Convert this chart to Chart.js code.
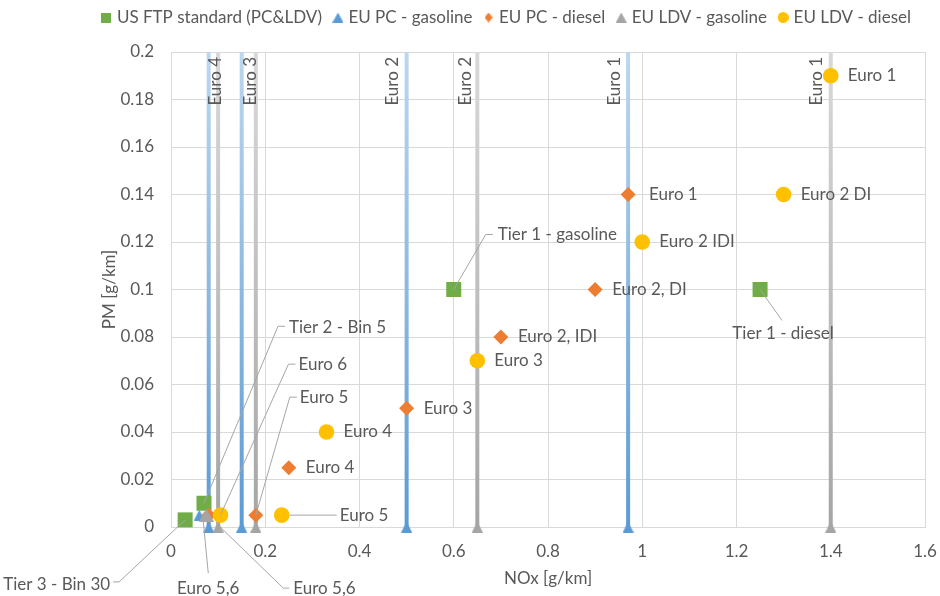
<!DOCTYPE html>
<html>
<head>
<meta charset="utf-8">
<script src="https://cdn.jsdelivr.net/npm/chart.js@4.4.1/dist/chart.umd.min.js"></script>
<style>
  html, body { margin: 0; padding: 0; background: #fff; }
</style>
</head>
<body>
<canvas id="emissionChart" width="940" height="596"></canvas>
<script>
// NOx / PM emission limits [g/km]
var usNames = ['Tier 1 - gasoline', 'Tier 1 - diesel', 'Tier 2 - Bin 5', 'Tier 3 - Bin 30'];
var usNOx = [0.6, 1.25, 0.07, 0.03];
var usPM = [0.1, 0.1, 0.01, 0.003];

var pcGasNames = ['Euro 1', 'Euro 2', 'Euro 3', 'Euro 4', 'Euro 5,6'];
var pcGasNOx = [0.97, 0.5, 0.15, 0.08, 0.06];
var pcGasPM = [0, 0, 0, 0, 0.005];   // 0 = no PM limit

var pcDieselNames = ['Euro 1', 'Euro 2, IDI', 'Euro 2, DI', 'Euro 3', 'Euro 4', 'Euro 5', 'Euro 6'];
var pcDieselNOx = [0.97, 0.7, 0.9, 0.5, 0.25, 0.18, 0.08];
var pcDieselPM = [0.14, 0.08, 0.1, 0.05, 0.025, 0.005, 0.005];

var ldvGasNames = ['Euro 1', 'Euro 2', 'Euro 3', 'Euro 4', 'Euro 5,6'];
var ldvGasNOx = [1.4, 0.65, 0.18, 0.1, 0.075];
var ldvGasPM = [0, 0, 0, 0, 0.005];

var ldvDieselNames = ['Euro 1', 'Euro 2 IDI', 'Euro 2 DI', 'Euro 3', 'Euro 4', 'Euro 5', 'Euro 6'];
var ldvDieselNOx = [1.4, 1.0, 1.3, 0.65, 0.33, 0.235, 0.105];
var ldvDieselPM = [0.19, 0.12, 0.14, 0.07, 0.04, 0.005, 0.005];

var xTicks = [0, 0.2, 0.4, 0.6, 0.8, 1, 1.2, 1.4, 1.6];
var yTicks = [0, 0.02, 0.04, 0.06, 0.08, 0.1, 0.12, 0.14, 0.16, 0.18, 0.2];

var usFtp = { names: usNames, nox: usNOx, pm: usPM };
var pcGas = { names: pcGasNames, nox: pcGasNOx, pm: pcGasPM };
var pcDiesel = { names: pcDieselNames, nox: pcDieselNOx, pm: pcDieselPM };
var ldvGas = { names: ldvGasNames, nox: ldvGasNOx, pm: ldvGasPM };
var ldvDiesel = { names: ldvDieselNames, nox: ldvDieselNOx, pm: ldvDieselPM };

var FONT = 'Lato';
var FSIZE = 17;
var TEXT = '#595959';
var GRID = '#d9d9d9';
var GREEN = '#70ad47', BLUE = '#5b9bd5', ORANGE = '#ed7d31', GREY = '#a5a5a5', YELLOW = '#ffc000';
var yTop = yTicks[yTicks.length - 1];

function points(s) {
  return s.nox.map(function (x, i) { return { x: x, y: s.pm[i] }; });
}

// gasoline stages without PM limit get a bar over the whole PM range
function limitBars(s) {
  var out = [];
  s.nox.forEach(function (x, i) {
    if (s.pm[i] === 0) out.push({ x: x, y: 0 }, { x: x, y: yTop }, { x: x, y: null });
  });
  return out;
}

function fade(top, bottom) {
  return function (c) {
    var area = c.chart.chartArea;
    if (!area) return bottom;
    var g = c.chart.ctx.createLinearGradient(0, area.bottom, 0, area.top);
    g.addColorStop(0, bottom);
    g.addColorStop(1, top);
    return g;
  };
}

// small marker bitmaps, centred on the point like Excel does
function marker(shape, w, h, color) {
  var c = document.createElement('canvas');
  c.width = w; c.height = h;
  var g = c.getContext('2d');
  g.fillStyle = color;
  g.beginPath();
  if (shape === 'triangle') { g.moveTo(w / 2, 0); g.lineTo(w, h); g.lineTo(0, h); }
  else if (shape === 'diamond') { g.moveTo(w / 2, 0); g.lineTo(w, h / 2); g.lineTo(w / 2, h); g.lineTo(0, h / 2); }
  else if (shape === 'circle') { g.arc(w / 2, h / 2, w / 2, 0, Math.PI * 2); }
  else { g.rect(0, 0, w, h); }
  g.closePath();
  g.fill();
  return c;
}

var triBlue = marker('triangle', 11, 11, BLUE);
var triGrey = marker('triangle', 11, 11, GREY);
var triGreyBig = marker('triangle', 15, 13, GREY);
var legendMarks = [
  marker('rect', 10, 10, GREEN), marker('triangle', 11, 10, BLUE), marker('diamond', 8, 10, ORANGE),
  marker('triangle', 11, 10, GREY), marker('circle', 11, 11, YELLOW)
];

// rotated stage names on the bars: series, index, x shift in px
var barLabels = [
  [ldvGas, 3, 3], [ldvGas, 2, 0], [pcGas, 1, -9], [ldvGas, 1, -6], [pcGas, 0, -8], [ldvGas, 0, -9]
];

// point labels; dx/dy = text anchor from the point, leader = polyline from the point
function right(s, i, dx) { return { s: s, i: i, dx: dx || 17, dy: 0, align: 'left' }; }
var pointLabels = [
  right(ldvDiesel, 0), right(ldvDiesel, 1), right(ldvDiesel, 2), right(ldvDiesel, 3), right(ldvDiesel, 4),
  right(pcDiesel, 0, 21), right(pcDiesel, 1), right(pcDiesel, 2), right(pcDiesel, 3), right(pcDiesel, 4),
  { s: ldvDiesel, i: 5, dx: 58, dy: 0, align: 'left', leader: [[8, 0], [55, 0]] },
  { s: ldvDiesel, i: 6, dx: 78, dy: -151, align: 'left', leader: [[0, 0], [68, -151], [75, -151]] },
  { s: pcDiesel, i: 5, dx: 44, dy: -118, align: 'left', leader: [[0, 0], [34, -118], [41, -118]] },
  { s: usFtp, i: 0, dx: 44, dy: -55, align: 'left', leader: [[0, 0], [32, -55], [39, -55]] },
  { s: usFtp, i: 1, dx: 23, dy: 44, align: 'center', leader: [[0, 0], [22, 31]] },
  { s: usFtp, i: 2, dx: 85, dy: -176, align: 'left', leader: [[0, 0], [74, -177], [81, -177]] },
  { s: usFtp, i: 3, dx: -75, dy: 65, align: 'right', leader: [[0, 0], [-66, 62], [-72, 62]] },
  { s: pcGas, i: 4, dx: 9, dy: 73, align: 'center', leader: [[4, 6], [9, 58]] },
  { s: ldvGas, i: 4, dx: 87, dy: 73, align: 'left', leader: [[14, 12], [77, 73], [83, 73]] }
];

var annotate = {
  id: 'annotate',
  afterLayout: function (chart) {
    // pull the legend row up, keep the plot top where it is
    chart.legend.top -= 16;
    chart.legend.bottom -= 16;
  },
  afterDatasetsDraw: function (chart) {
    var ctx = chart.ctx, xs = chart.scales.x, ys = chart.scales.y, area = chart.chartArea;
    ctx.save();
    ctx.font = FSIZE + 'px ' + FONT;
    ctx.fillStyle = TEXT;
    ctx.strokeStyle = '#a6a6a6';
    ctx.lineWidth = 1;

    barLabels.forEach(function (b) {
      var px = xs.getPixelForValue(b[0].nox[b[1]]) + b[2];
      ctx.save();
      ctx.translate(px, area.top + 5);
      ctx.rotate(-Math.PI / 2);
      ctx.textAlign = 'right';
      ctx.textBaseline = 'alphabetic';
      ctx.fillText(b[0].names[b[1]], 0, 0);
      ctx.restore();
    });

    pointLabels.forEach(function (l) {
      var px = xs.getPixelForValue(l.s.nox[l.i]);
      var py = ys.getPixelForValue(l.s.pm[l.i]);
      if (l.leader) {
        ctx.beginPath();
        l.leader.forEach(function (p, k) {
          if (k === 0) ctx.moveTo(px + p[0], py + p[1]);
          else ctx.lineTo(px + p[0], py + p[1]);
        });
        ctx.stroke();
      }
      ctx.textAlign = l.align;
      ctx.textBaseline = 'middle';
      ctx.fillText(l.s.names[l.i], px + l.dx, py + l.dy);
    });
    ctx.restore();
  }
};

function fmt(v) { return String(Number(v.toFixed(2))); }

var ctx = document.getElementById('emissionChart').getContext('2d');
var chart = new Chart(ctx, {
  type: 'scatter',
  data: {
    datasets: [{
      label: 'US FTP standard (PC&LDV)',
      data: points(usFtp),
      pointStyle: 'rect',
      pointRadius: 10.6,
      backgroundColor: GREEN,
      borderColor: GREEN,
      borderWidth: 0,
      clip: false,
      order: 5
    }, {
      label: 'EU PC - gasoline',
      data: points(pcGas),
      pointStyle: triBlue,
      pointRadius: 7,
      backgroundColor: BLUE,
      borderColor: BLUE,
      borderWidth: 0,
      clip: false,
      order: 4
    }, {
      label: 'EU PC - diesel',
      data: points(pcDiesel),
      pointStyle: 'rectRot',
      pointRadius: 7.5,
      backgroundColor: ORANGE,
      borderColor: ORANGE,
      borderWidth: 0,
      clip: false,
      order: 3
    }, {
      label: 'EU LDV - gasoline',
      data: points(ldvGas),
      pointStyle: function (c) { return ldvGasPM[c.dataIndex] > 0 ? triGreyBig : triGrey; },
      pointRadius: 8,
      backgroundColor: GREY,
      borderColor: GREY,
      borderWidth: 0,
      clip: false,
      order: 2
    }, {
      label: 'EU LDV - diesel',
      data: points(ldvDiesel),
      pointStyle: 'circle',
      pointRadius: 7.8,
      backgroundColor: YELLOW,
      borderColor: YELLOW,
      borderWidth: 0,
      clip: false,
      order: 1
    }, {
      label: 'pc bars',
      data: limitBars(pcGas),
      showLine: true,
      spanGaps: false,
      pointRadius: 0,
      borderWidth: 4,
      borderColor: fade('#bdd7ee', BLUE),
      order: 10
    }, {
      label: 'ldv bars',
      data: limitBars(ldvGas),
      showLine: true,
      spanGaps: false,
      pointRadius: 0,
      borderWidth: 4,
      borderColor: fade('#d9d9d9', GREY),
      order: 10
    }]
  },
  options: {
    responsive: false,
    animation: false,
    events: [],
    layout: { padding: { left: 0, right: 15, top: 11, bottom: 0 } },
    plugins: {
      tooltip: { enabled: false },
      legend: {
        position: 'top',
        align: 'end',
        labels: {
          usePointStyle: true,
          boxWidth: 4,
          boxHeight: 9,
          padding: 14,
          color: TEXT,
          font: { family: FONT, size: FSIZE },
          generateLabels: function (chart) {
            var items = Chart.defaults.plugins.legend.labels.generateLabels(chart);
            items.forEach(function (it) {
              if (legendMarks[it.datasetIndex]) it.pointStyle = legendMarks[it.datasetIndex];
            });
            return items;
          },
          filter: function (item) { return item.datasetIndex < 5; },
          sort: function (a, b) { return a.datasetIndex - b.datasetIndex; }
        }
      }
    },
    scales: {
      x: {
        type: 'linear',
        min: xTicks[0],
        max: xTicks[xTicks.length - 1],
        afterBuildTicks: function (s) { s.ticks = xTicks.map(function (v) { return { value: v }; }); },
        ticks: { padding: 0, color: TEXT, font: { family: FONT, size: FSIZE }, callback: fmt },
        // invisible tick marks give the label gap without widening the right padding
        grid: { color: GRID, drawTicks: true, tickLength: 14, tickColor: 'rgba(0,0,0,0)' },
        border: { color: GRID },
        title: { display: true, text: 'NOx [g/km]', color: TEXT, font: { family: FONT, size: FSIZE }, padding: { top: 0, bottom: 7 } },
        afterFit: function (s) { s.height = 69; }
      },
      y: {
        type: 'linear',
        min: yTicks[0],
        max: yTop,
        afterBuildTicks: function (s) { s.ticks = yTicks.map(function (v) { return { value: v }; }); },
        ticks: { padding: 17, color: TEXT, font: { family: FONT, size: FSIZE }, callback: fmt },
        grid: { color: GRID, drawTicks: false },
        border: { color: GRID },
        title: { display: true, text: 'PM [g/km]', color: TEXT, font: { family: FONT, size: FSIZE }, padding: { top: 99, bottom: 0 } },
        afterFit: function (s) { s.width = 171; }
      }
    }
  },
  plugins: [annotate]
});
</script>
</body>
</html>
